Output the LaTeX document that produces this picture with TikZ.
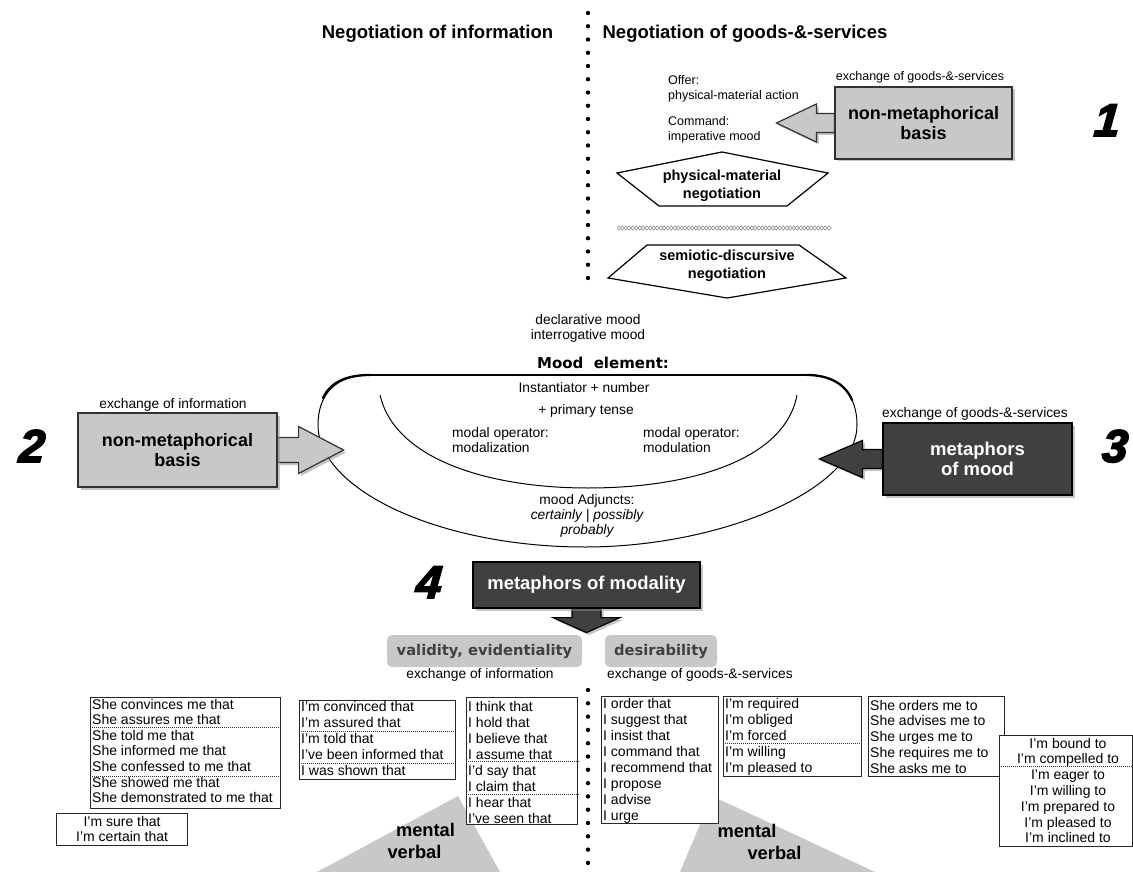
\documentclass[tikz,border=0pt]{standalone}
\usepackage{fontspec}
\setmainfont{Liberation Sans}
\newfontfamily\vbfont{DejaVu Sans}
\newfontfamily\digitfont[FakeBold=3.5,FakeSlant=0.08]{Liberation Sans Bold Italic}
\usetikzlibrary{calc,shadows,backgrounds,decorations.pathmorphing}
\definecolor{lightfill}{RGB}{200,200,200}
\definecolor{darkfill}{RGB}{64,64,64}
\definecolor{tabtext}{RGB}{64,64,64}
\definecolor{edgegray}{RGB}{50,50,50}

\begin{document}
\begin{tikzpicture}[x=1pt,y=-1pt,
  every node/.style={inner sep=0pt},
  hdr/.style={font=\fontsize{18.5}{20}\selectfont\bfseries, anchor=base},
  lbl/.style={font=\fontsize{13.8}{15}\selectfont, anchor=base},
  lblsm/.style={font=\fontsize{12.5}{14}\selectfont, anchor=base},
  nums/.style={font=\digitfont\fontsize{46}{46}\selectfont, anchor=base},
  shadowed/.style={drop shadow={shadow xshift=2.5pt,shadow yshift=-2.5pt,fill=black!45}},
  lightbox/.style={draw=edgegray, line width=1.2pt, fill=lightfill, shadowed,
    align=center, font=\fontsize{18}{20}\selectfont\bfseries},
  darkbox/.style={draw=black, line width=1.2pt, fill=darkfill, shadowed, text=white,
    align=center, font=\fontsize{18.5}{20}\selectfont\bfseries},
  garrow/.style={draw=edgegray, line width=1.2pt, fill=lightfill, shadowed, line join=miter},
  darrow/.style={draw=black, line width=1.2pt, fill=darkfill, shadowed, line join=miter},
  penta/.style={draw=black, line width=1.2pt, fill=white, line join=miter},
  pentatext/.style={font=\fontsize{14.5}{18}\selectfont\bfseries, align=center},
  tab/.style={fill=lightfill, rounded corners=5pt, text=tabtext,
    font=\vbfont\bfseries\fontsize{14.7}{16}\selectfont},
  listbox/.style={draw=black!85, line width=1.2pt, fill=white, anchor=north west},
  lst/.style={font=\fontsize{14}{15}\selectfont},
  sepline/.style={black!80, line width=0.6pt, dash pattern=on 1pt off 1pt},
  wedge/.style={fill=lightfill},
  wedgetext/.style={font=\fontsize{18.3}{20}\selectfont\bfseries, anchor=base},
  moodline/.style={black, line width=1pt},
  wave/.style={black!55, line width=0.45pt, decorate,
    decoration={zigzag, segment length=7pt, amplitude=#1}},
]
\useasboundingbox (0,0) rectangle (1133,872);

% ---------- dividing dotted line ----------
\foreach \k in {0,...,20} \fill (588,{13+13.25*\k}) circle (2.2);
\foreach \k in {0,...,13} \fill (588,{690+13.3*\k}) circle (2.2);

% ---------- headings ----------
\node[hdr] (hinf) at (437.5,39) {Negotiation of information};
\node[hdr] (hgs) at (745,39) {Negotiation of goods-\&-services};

% ---------- goods-&-services, upper part ----------
\node[lblsm, anchor=base west] (offer) at (668,84.5) {Offer:};
\node[lblsm, anchor=base west] (offer2) at (668,99.5) {physical-material action};
\node[lblsm, anchor=base west] (cmd) at (668,125.5) {Command:};
\node[lblsm, anchor=base west] (cmd2) at (668,140.5) {imperative mood};

\node[lblsm] (ex1) at (920,80.5) {exchange of goods-\&-services};
\node[lightbox, minimum width=177, minimum height=72] (b1) at (923.5,123) {non-metaphorical\\basis};
\node[nums] (n1) at (1106,136) {1};

\node[pentatext] (pm) at (722,186) {physical-material\\negotiation};
\begin{scope}[on background layer]
\draw[penta] ($(pm)+(0,-34)$) -- ($(pm)+(106,-13)$) -- ($(pm)+(65,20)$)
  -- ($(pm)+(-63,20)$) -- ($(pm)+(-105,-13)$) -- cycle;
\end{scope}

\draw[wave=2.2pt] (617,228) -- (832,228);
\draw[wave=-2.2pt] (617,228) -- (832,228);

\node[pentatext] (sd) at (727,266) {semiotic-discursive\\negotiation};
\begin{scope}[on background layer]
\draw[penta] ($(sd)+(-80,-21)$) -- ($(sd)+(72,-21)$) -- ($(sd)+(119,12)$)
  -- ($(sd)+(0,32)$) -- ($(sd)+(-119,12)$) -- cycle;
\end{scope}

% ---------- Mood element ----------
\node[lbl] (decl) at (588,324) {declarative mood};
\node[lbl] (inter) at (588,339) {interrogative mood};
\node[font=\vbfont\bfseries\fontsize{15}{17}\selectfont, anchor=base] (me) at (603,368.5) {Mood\ \ element:};

\node[lbl] (inst) at (584,392) {Instantiator + number};
\node[lbl] (tense) at (586,414) {+ primary tense};
\node[lbl, anchor=base west] (mz1) at (452,437) {modal operator:};
\node[lbl, anchor=base west] (mz2) at (452,452) {modalization};
\node[lbl, anchor=base west] (mu1) at (643,437) {modal operator:};
\node[lbl, anchor=base west] (mu2) at (643,452) {modulation};
\node[lbl] (adj1) at (587,504) {mood Adjuncts:};
\node[lbl] (adj2) at (587,519) {\itshape certainly | possibly};
\node[lbl] (adj3) at (587,534) {\itshape probably};

% ---------- side boxes ----------
\node[lbl] (ex2) at (173,408) {exchange of information};
\node[lightbox, minimum width=199, minimum height=74] (b2) at (177.5,450) {non-metaphorical\\basis};
\node[nums] (n2) at (31,462) {2};

\node[lbl] (ex3) at (975,417) {exchange of goods-\&-services};
\node[darkbox, minimum width=189, minimum height=72] (b3) at (977.5,459) {metaphors\\of mood};
\node[nums] (n3) at (1114,462) {3};

% ---------- metaphors of modality ----------
\node[darkbox, minimum width=227, minimum height=46] (b4) at (586.5,585) {metaphors of modality};
\node[nums] (n4) at (428,598) {4};

\node[tab, minimum width=195, minimum height=32] (tv) at (484.5,651) {validity, evidentiality};
\node[tab, minimum width=112, minimum height=32] (td) at (661,651) {desirability};
\node[lbl] (ex4) at (480,678) {exchange of information};
\node[lbl] (ex5) at (700,678) {exchange of goods-\&-services};

% ---------- shapes behind the text ----------
\begin{scope}[on background layer]
% Mood element outline
\draw[moodline] (370,375) -- (807,375) .. controls (840,375) and (857,395) .. (857,425)
  .. controls (857,490) and (720,547) .. (585,547)
  .. controls (440,547) and (318,490) .. (318,425)
  .. controls (318,395) and (335,375) .. (370,375) -- cycle;
\draw[black, line width=1.6pt] (370,375) -- (807,375);
\draw[black, line width=2.3pt, line cap=round] (323,398) .. controls (330,383) and (345,375) .. (370,375);
\draw[black, line width=2.3pt, line cap=round] (807,375) .. controls (828,375) and (845,383) .. (852,400);
\draw[moodline] (380,395) .. controls (395,460) and (490,488) .. (588,488)
  .. controls (690,488) and (785,460) .. (797,395);

% block arrows
\path[garrow] ($(b1.west)+(0,-9.5)$) -- ++(-18,0) -- ++(0,-9.5) -- ($(b1.west)+(-58,0)$)
  -- ($(b1.west)+(-18,19)$) -- ++(0,-9.5) -- ($(b1.west)+(0,9.5)$) -- cycle;
\path[garrow] ($(b2.east)+(0,-12.5)$) -- ++(21,0) -- ++(0,-11) -- ($(b2.east)+(66,0)$)
  -- ($(b2.east)+(21,23.5)$) -- ++(0,-11) -- ($(b2.east)+(0,12.5)$) -- cycle;
\path[darrow] ($(b3.west)+(0,-9.5)$) -- ++(-20,0) -- ++(0,-9) -- ($(b3.west)+(-63,0)$)
  -- ($(b3.west)+(-20,18.5)$) -- ++(0,-9) -- ($(b3.west)+(0,9.5)$) -- cycle;
\path[darrow] ($(b4.south)+(-14.5,0)$) -- ++(0,9) -- ++(-19,0) -- ($(b4.south)+(0,24)$)
  -- ($(b4.south)+(33.5,9)$) -- ++(-19,0) -- ($(b4.south)+(14.5,0)$) -- cycle;

% mental / verbal wedges
\fill[wedge] (458,796) -- (317,872) -- (500,872) -- cycle;
\fill[wedge] (712,796) -- (680,872) -- (875,872) -- cycle;
\end{scope}

\node[wedgetext] (wl1) at (425.5,836) {mental};
\node[wedgetext] (wl2) at (414.5,858) {verbal};
\node[wedgetext] (wr1) at (747,837) {mental};
\node[wedgetext] (wr2) at (774.5,859) {verbal};

% ---------- lists: information ----------
\node[listbox, minimum width=190, minimum height=111] (la) at (90,697) {};
\foreach \s [count=\i] in {She convinces me that, She assures me that, She told me that,
  She informed me that, She confessed to me that, She showed me that, She demonstrated to me that}
  \node[lst, anchor=base west] (la\i) at ($(la.north west)+(2,{12+15.6*(\i-1)})$) {\s};
\draw[sepline] ($(la.north west)+(0,30)$) -- ($(la.north east)+(0,30)$);
\draw[sepline] ($(la.north west)+(0,79)$) -- ($(la.north east)+(0,79)$);

\node[listbox, minimum width=131, minimum height=32] (lb) at (56,813) {};
\foreach \s [count=\i] in {I'm sure that, I'm certain that}
  \node[lst, anchor=base] (lb\i) at ($(lb.north)+(0,{13.5+15*(\i-1)})$) {\s};

\node[listbox, minimum width=156, minimum height=79] (lc) at (299,700) {};
\foreach \s [count=\i] in {I'm convinced that, I'm assured that, I'm told that,
  I've been informed that, I was shown that}
  \node[lst, anchor=base west] (lc\i) at ($(lc.north west)+(2,{11+16.2*(\i-1)})$) {\s};
\draw[sepline] ($(lc.north west)+(0,31)$) -- ($(lc.north east)+(0,31)$);
\draw[sepline] ($(lc.north west)+(0,63)$) -- ($(lc.north east)+(0,63)$);

\node[listbox, minimum width=111, minimum height=127] (ld) at (466,697) {};
\foreach \s [count=\i] in {I think that, I hold that, I believe that, I assume that,
  I'd say that, I claim that, I hear that, I've seen that}
  \node[lst, anchor=base west] (ld\i) at ($(ld.north west)+(2,{14+16*(\i-1)})$) {\s};
\draw[sepline] ($(ld.north west)+(0,64)$) -- ($(ld.north east)+(0,64)$);
\draw[sepline] ($(ld.north west)+(0,97)$) -- ($(ld.north east)+(0,97)$);

% ---------- lists: goods-&-services ----------
\node[listbox, minimum width=117, minimum height=127] (le) at (601,696) {};
\foreach \s [count=\i] in {I order that, I suggest that, I insist that, I command that,
  I recommend that, I propose, I advise, I urge}
  \node[lst, anchor=base west] (le\i) at ($(le.north west)+(2,{12+16.1*(\i-1)})$) {\s};

\node[listbox, minimum width=138, minimum height=80] (lf) at (723,696) {};
\foreach \s [count=\i] in {I'm required, I'm obliged, I'm forced, I'm willing, I'm pleased to}
  \node[lst, anchor=base west] (lf\i) at ($(lf.north west)+(2,{12+16.2*(\i-1)})$) {\s};
\draw[sepline] ($(lf.north west)+(0,47)$) -- ($(lf.north east)+(0,47)$);

\node[listbox, minimum width=136, minimum height=80] (lg) at (868,696) {};
\foreach \s [count=\i] in {She orders me to, She advises me to, She urges me to,
  She requires me to, She asks me to}
  \node[lst, anchor=base west] (lg\i) at ($(lg.north west)+(2,{14+15.75*(\i-1)})$) {\s};

\node[listbox, minimum width=133, minimum height=111] (lh) at (999,735) {};
\foreach \s [count=\i] in {I'm bound to, I'm compelled to, I'm eager to, I'm willing to,
  I'm prepared to, I'm pleased to, I'm inclined to}
  \node[lst, anchor=base] (lh\i) at ($(lh.north west)+(69,{13+15.8*(\i-1)})$) {\s};
\draw[sepline] ($(lh.north west)+(0,31)$) -- ($(lh.north east)+(0,31)$);
\end{tikzpicture}
\end{document}
